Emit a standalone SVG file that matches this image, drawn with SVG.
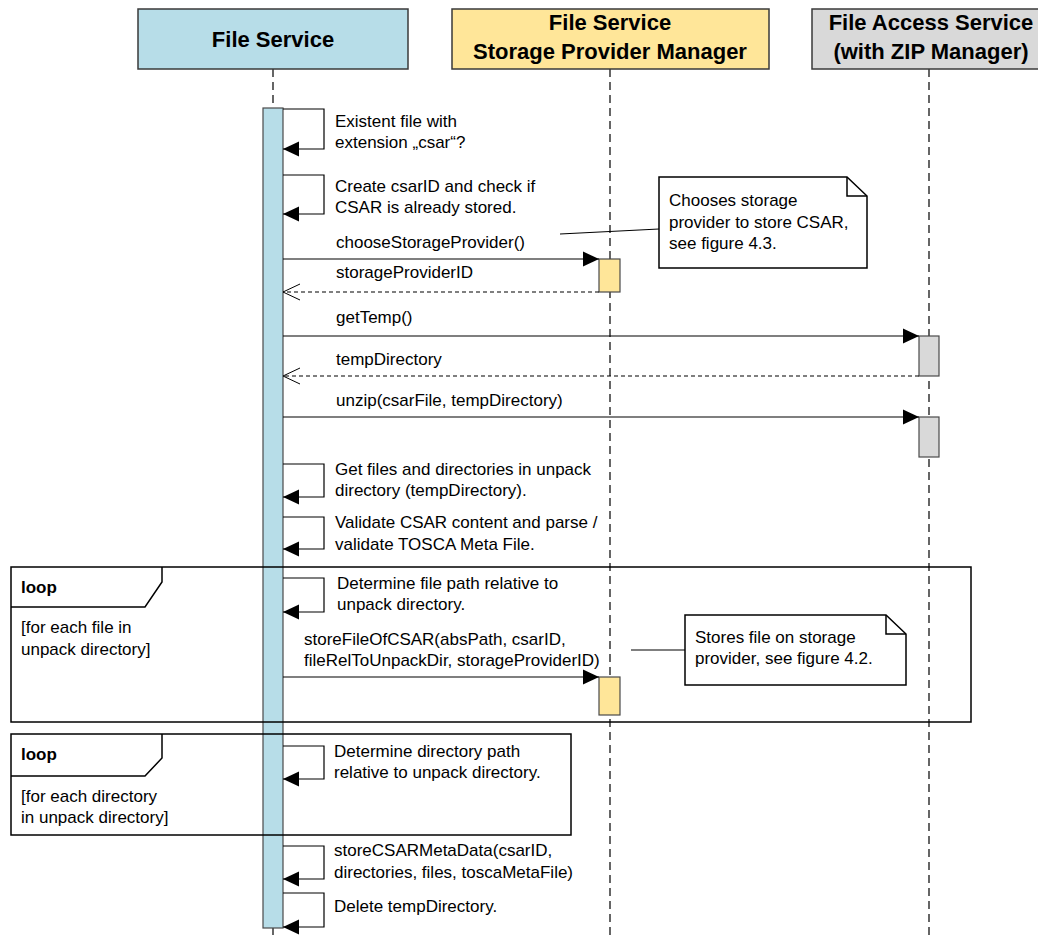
<svg xmlns="http://www.w3.org/2000/svg" width="1038" height="935" viewBox="0 0 1038 935">
  <style>
    text { font-family: "Liberation Sans", Arial, sans-serif; font-size: 17px; fill: #000; }
    .hdr { font-size: 22px; font-weight: bold; text-anchor: middle; }
    .bold { font-weight: bold; }
    .head { stroke: #3a3a3a; stroke-width: 1.5; }
    .life { stroke: #000; stroke-width: 1.2; stroke-dasharray: 8,5; fill: none; }
    .bar { stroke: #4a4a4a; stroke-width: 1.2; }
    .msg { stroke: #000; stroke-width: 1.2; fill: none; }
    .ret { stroke: #000; stroke-width: 1.2; fill: none; stroke-dasharray: 4,3; }
    .frame { stroke: #000; stroke-width: 1.5; fill: none; }
    .note { stroke: #000; stroke-width: 1.5; fill: #fff; }
  </style>
  <defs>
    <marker id="af" markerWidth="16" markerHeight="16" refX="16" refY="8" orient="auto" markerUnits="userSpaceOnUse">
      <path d="M0,0.5 L16,8 L0,15.5 z" fill="#000"/>
    </marker>
    <marker id="ao" markerWidth="18" markerHeight="18" refX="17" refY="8" orient="auto" markerUnits="userSpaceOnUse" overflow="visible">
      <path d="M0,0 L17,8 L0,16" fill="none" stroke="#000" stroke-width="1"/>
    </marker>
  </defs>
  <rect width="1038" height="935" fill="#fff"/>

  <!-- Lifelines -->
  <g id="lifelines">
    <line class="life" x1="273" y1="69" x2="273" y2="108"/>
    <line class="life" x1="273" y1="928" x2="273" y2="935"/>
    <line class="life" x1="610" y1="69" x2="610" y2="935"/>
    <line class="life" x1="929" y1="69" x2="929" y2="935"/>
  </g>

  <!-- Participants -->
  <g id="fileService">
    <rect class="head" x="138" y="9" width="270" height="60" fill="#b7dde8"/>
    <text class="hdr" x="273" y="47">File Service</text>
  </g>
  <g id="storageProviderManager">
    <rect class="head" x="452" y="9" width="317" height="60" fill="#ffe699"/>
    <text class="hdr" x="610" y="30">File Service</text>
    <text class="hdr" x="610" y="59">Storage Provider Manager</text>
  </g>
  <g id="fileAccessService">
    <rect class="head" x="812" y="9" width="238" height="60" fill="#d9d9d9"/>
    <text class="hdr" x="931" y="30">File Access Service</text>
    <text class="hdr" x="931" y="59">(with ZIP Manager)</text>
  </g>

  <!-- Activation bars -->
  <g id="activations">
    <rect class="bar" x="263" y="108" width="20" height="820" fill="#b7dde8"/>
    <rect class="bar" x="599" y="259" width="21" height="33" fill="#ffe699"/>
    <rect class="bar" x="599" y="677" width="21" height="38" fill="#ffe699"/>
    <rect class="bar" x="919" y="336" width="20" height="40" fill="#d9d9d9"/>
    <rect class="bar" x="919" y="417" width="20" height="40" fill="#d9d9d9"/>
  </g>

  <!-- Connectors -->
  <g id="connectors">
    <path class="msg" d="M283,109 H324 V149 H283" marker-end="url(#af)"/>
    <path class="msg" d="M283,175 H324 V214 H283" marker-end="url(#af)"/>
    <line class="msg" x1="283" y1="259" x2="599" y2="259" marker-end="url(#af)"/>
    <line class="ret" x1="599" y1="292" x2="283" y2="292" marker-end="url(#ao)"/>
    <line class="msg" x1="283" y1="336" x2="919" y2="336" marker-end="url(#af)"/>
    <line class="ret" x1="919" y1="376" x2="283" y2="376" marker-end="url(#ao)"/>
    <line class="msg" x1="283" y1="417" x2="919" y2="417" marker-end="url(#af)"/>
    <path class="msg" d="M283,464 H324 V497 H283" marker-end="url(#af)"/>
    <path class="msg" d="M283,517 H324 V549 H283" marker-end="url(#af)"/>
    <path class="msg" d="M283,578 H324 V612 H283" marker-end="url(#af)"/>
    <line class="msg" x1="283" y1="677" x2="599" y2="677" marker-end="url(#af)"/>
    <path class="msg" d="M283,746 H324 V779 H283" marker-end="url(#af)"/>
    <path class="msg" d="M283,846 H324 V879 H283" marker-end="url(#af)"/>
    <path class="msg" d="M283,893 H324 V927 H283" marker-end="url(#af)"/>
    <line class="msg" x1="560" y1="234" x2="659" y2="229" stroke-width="1.5"/>
    <line class="msg" x1="631" y1="650" x2="685" y2="650" stroke-width="1.5"/>
  </g>

  <!-- Message labels -->
  <g id="labels">
    <text x="335" y="127">Existent file with</text>
    <text x="335" y="148">extension „csar“?</text>
    <text x="335" y="192">Create csarID and check if</text>
    <text x="335" y="213">CSAR is already stored.</text>
    <text x="336" y="248">chooseStorageProvider()</text>
    <text x="336" y="278">storageProviderID</text>
    <text x="336" y="323">getTemp()</text>
    <text x="336" y="365">tempDirectory</text>
    <text x="336" y="406">unzip(csarFile, tempDirectory)</text>
    <text x="335" y="475">Get files and directories in unpack</text>
    <text x="335" y="496">directory (tempDirectory).</text>
    <text x="335" y="528">Validate CSAR content and parse /</text>
    <text x="335" y="550">validate TOSCA Meta File.</text>
    <text x="337" y="589">Determine file path relative to</text>
    <text x="337" y="610">unpack directory.</text>
    <text x="304" y="645">storeFileOfCSAR(absPath, csarID,</text>
    <text x="304" y="666">fileRelToUnpackDir, storageProviderID)</text>
    <text x="334" y="757">Determine directory path</text>
    <text x="334" y="778">relative to unpack directory.</text>
    <text x="334" y="856">storeCSARMetaData(csarID,</text>
    <text x="334" y="878">directories, files, toscaMetaFile)</text>
    <text x="334" y="912">Delete tempDirectory.</text>
  </g>

  <!-- Notes -->
  <g id="note1">
    <path class="note" d="M659,177 H847 L867,196 V268 H659 Z"/>
    <path class="frame" d="M847,177 V196 H867"/>
    <text x="669" y="206">Chooses storage</text>
    <text x="669" y="228">provider to store CSAR,</text>
    <text x="669" y="249">see figure 4.3.</text>
  </g>
  <g id="note2">
    <path class="note" d="M685,615 H886 L906,634 V685 H685 Z"/>
    <path class="frame" d="M886,615 V634 H906"/>
    <text x="695" y="643">Stores file on storage</text>
    <text x="695" y="664">provider, see figure 4.2.</text>
  </g>

  <!-- Loop frames -->
  <g id="loop1">
    <rect class="frame" x="11" y="567" width="960" height="155"/>
    <path class="frame" d="M11,607 H145 L162,582 V567"/>
    <text class="bold" x="21" y="593">loop</text>
    <text x="21" y="633">[for each file in</text>
    <text x="21" y="655">unpack directory]</text>
  </g>
  <g id="loop2">
    <rect class="frame" x="11" y="734" width="560" height="101"/>
    <path class="frame" d="M11,776 H145 L162,758 V734"/>
    <text class="bold" x="21" y="760">loop</text>
    <text x="21" y="802">[for each directory</text>
    <text x="21" y="823">in unpack directory]</text>
  </g>
</svg>
